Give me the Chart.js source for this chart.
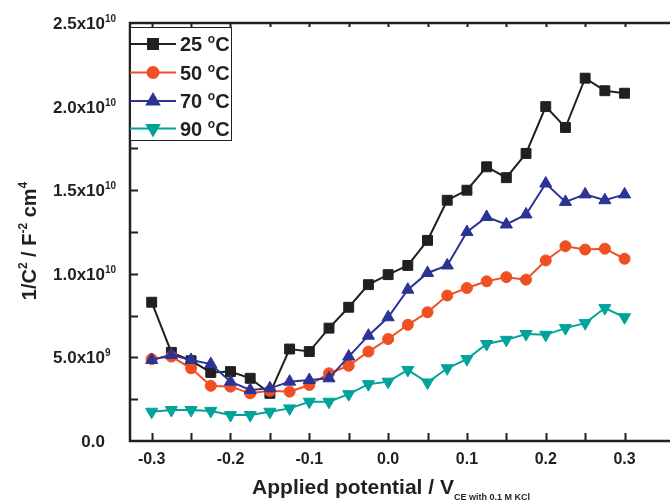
<!DOCTYPE html>
<html>
<head>
<meta charset="utf-8">
<script src="https://cdn.jsdelivr.net/npm/chart.js@4/dist/chart.umd.min.js"></script>
<style>
  html, body { margin: 0; padding: 0; background: #fff; }
</style>
</head>
<body>
<canvas id="mottChart" width="670" height="503"></canvas>
<script>
// Mott-Schottky data, 1/C^2 (F^-2 cm^4) vs applied potential
const potentials = [-0.3, -0.275, -0.25, -0.225, -0.2, -0.175, -0.15, -0.125, -0.1, -0.075, -0.05, -0.025,
  0, 0.025, 0.05, 0.075, 0.1, 0.125, 0.15, 0.175, 0.2, 0.225, 0.25, 0.275, 0.3];

const temps = ['25', '50', '70', '90'];

const invC2_25 = [8.3e9, 5.3e9, 4.8e9, 4.1e9, 4.15e9, 3.75e9, 2.85e9, 5.5e9, 5.35e9, 6.75e9, 8.0e9, 9.35e9,
  9.95e9, 10.5e9, 12.0e9, 14.4e9, 15.0e9, 16.4e9, 15.75e9, 17.2e9, 20.0e9, 18.75e9, 21.7e9, 20.95e9, 20.8e9];
const invC2_50 = [4.9e9, 5.05e9, 4.35e9, 3.3e9, 3.25e9, 2.85e9, 3.0e9, 2.95e9, 3.35e9, 4.05e9, 4.5e9, 5.35e9,
  6.1e9, 6.95e9, 7.7e9, 8.7e9, 9.15e9, 9.55e9, 9.8e9, 9.65e9, 10.8e9, 11.65e9, 11.45e9, 11.5e9, 10.9e9];
const invC2_70 = [4.85e9, 5.15e9, 4.85e9, 4.6e9, 3.55e9, 3.05e9, 3.15e9, 3.55e9, 3.65e9, 3.75e9, 5.05e9, 6.3e9,
  7.4e9, 9.05e9, 10.05e9, 10.5e9, 12.5e9, 13.4e9, 12.95e9, 13.55e9, 15.4e9, 14.3e9, 14.75e9, 14.4e9, 14.75e9];
const invC2_90 = [1.75e9, 1.85e9, 1.85e9, 1.8e9, 1.55e9, 1.55e9, 1.75e9, 1.95e9, 2.35e9, 2.35e9, 2.8e9, 3.4e9,
  3.55e9, 4.25e9, 3.5e9, 4.35e9, 4.9e9, 5.8e9, 6.05e9, 6.4e9, 6.35e9, 6.75e9, 7.05e9, 7.95e9, 7.4e9];

const xTickValues = [-0.3, -0.2, -0.1, 0, 0.1, 0.2, 0.3];
const xTickLabels = ['-0.3', '-0.2', '-0.1', '0.0', '0.1', '0.2', '0.3'];
const yTickValues = [0, 5e9, 1e10, 1.5e10, 2e10, 2.5e10];
const yTickMantissa = ['0.0', '5.0x10', '1.0x10', '1.5x10', '2.0x10', '2.5x10'];
const yTickExponent = ['', '9', '10', '10', '10', '10'];

const colors = ['#231f20', '#f04e23', '#2b3393', '#00a39b'];
const markers = [
  { style: 'rect', radius: 7, rotation: 0 },
  { style: 'circle', radius: 5.5, rotation: 0 },
  { style: 'triangle', radius: 7, rotation: 0 },
  { style: 'triangle', radius: 7, rotation: 180 }
];
const seriesData = [invC2_25, invC2_50, invC2_70, invC2_90];

const fontFam = '"Liberation Sans", Arial, sans-serif';

// draws text pieces one after another (for super/subscripts)
function drawRich(ctx, parts, x, y, align) {
  let total = 0;
  parts.forEach(p => {
    ctx.font = `bold ${p.size}px ${fontFam}`;
    p.w = ctx.measureText(p.t).width;
    total += p.w;
  });
  let cx = x;
  if (align === 'right') cx = x - total;
  if (align === 'center') cx = x - total / 2;
  ctx.textAlign = 'left';
  ctx.textBaseline = 'alphabetic';
  parts.forEach(p => {
    ctx.font = `bold ${p.size}px ${fontFam}`;
    ctx.fillText(p.t, cx, y + (p.dy || 0));
    cx += p.w;
  });
}

const axesPlugin = {
  id: 'originAxes',
  afterDraw(chart) {
    const ctx = chart.ctx;
    const area = chart.chartArea;
    const xs = chart.scales.x;
    const ys = chart.scales.y;
    ctx.save();
    ctx.strokeStyle = '#231f20';
    ctx.fillStyle = '#231f20';

    // frame (right side falls outside the picture)
    ctx.lineWidth = 2.5;
    ctx.beginPath();
    ctx.moveTo(chart.width, area.top);
    ctx.lineTo(area.left, area.top);
    ctx.lineTo(area.left, area.bottom);
    ctx.lineTo(chart.width, area.bottom);
    ctx.stroke();

    // ticks pointing inward
    ctx.lineWidth = 2;
    ctx.beginPath();
    for (let v = -0.3; v <= 0.3001; v += 0.05) {
      const px = Math.round(xs.getPixelForValue(v)) + 0.5;
      ctx.moveTo(px, area.bottom);
      ctx.lineTo(px, area.bottom - 8);
      ctx.moveTo(px, area.top);
      ctx.lineTo(px, area.top + 4);
    }
    for (let v = 2.5e9; v < 2.5e10; v += 2.5e9) {
      const py = Math.round(ys.getPixelForValue(v)) + 0.5;
      ctx.moveTo(area.left, py);
      ctx.lineTo(area.left + 8, py);
    }
    ctx.stroke();

    // x tick labels
    ctx.font = `bold 16px ${fontFam}`;
    ctx.textAlign = 'center';
    ctx.textBaseline = 'alphabetic';
    xTickValues.forEach((v, i) => {
      ctx.fillText(xTickLabels[i], xs.getPixelForValue(v), area.bottom + 23);
    });

    // y tick labels: mantissa right-aligned, exponent hangs after it
    yTickValues.forEach((v, i) => {
      const py = ys.getPixelForValue(v) + 6;
      drawRich(ctx, [{ t: yTickMantissa[i], size: 17 }], 105, py, 'right');
      if (yTickExponent[i]) {
        drawRich(ctx, [{ t: yTickExponent[i], size: 10 }], 105, py - 7, 'left');
      }
    });

    // x axis title
    drawRich(ctx, [
      { t: 'Applied potential / V', size: 21 },
      { t: 'CE with 0.1 M KCl', size: 9, dy: 6 }
    ], 391, 494, 'center');

    // y axis title, rotated
    ctx.save();
    ctx.translate(36, 241);
    ctx.rotate(-Math.PI / 2);
    drawRich(ctx, [
      { t: '1/C', size: 20 },
      { t: '2', size: 12, dy: -9 },
      { t: ' / F', size: 20 },
      { t: '-2', size: 12, dy: -9 },
      { t: ' cm', size: 20 },
      { t: '4', size: 12, dy: -9 }
    ], 0, 0, 'center');
    ctx.restore();

    // legend box
    const boxL = area.left, boxT = 27, boxW = 101, boxH = 113;
    ctx.fillStyle = '#fff';
    ctx.fillRect(boxL, boxT, boxW, boxH);
    ctx.lineWidth = 1;
    ctx.strokeStyle = '#231f20';
    ctx.strokeRect(boxL + 0.5, boxT + 0.5, boxW, boxH);
    const rowY = [44, 72.5, 101, 128.5];
    temps.forEach((t, i) => {
      ctx.strokeStyle = colors[i];
      ctx.fillStyle = colors[i];
      ctx.lineWidth = 2;
      ctx.beginPath();
      ctx.moveTo(boxL, rowY[i]);
      ctx.lineTo(boxL + 46, rowY[i]);
      ctx.stroke();
      Chart.helpers.drawPoint(ctx, {
        pointStyle: markers[i].style,
        radius: markers[i].radius,
        rotation: markers[i].rotation,
        borderWidth: 1
      }, boxL + 23, rowY[i]);
      ctx.fillStyle = '#231f20';
      drawRich(ctx, [
        { t: t + ' ', size: 20 },
        { t: 'o', size: 12, dy: -8 },
        { t: 'C', size: 20 }
      ], boxL + 50, rowY[i] + 7, 'left');
    });

    ctx.restore();
  }
};

const datasets = temps.map((t, i) => ({
  label: t + ' °C',
  data: potentials.map((p, j) => ({ x: p, y: seriesData[i][j] })),
  borderColor: colors[i],
  backgroundColor: colors[i],
  borderWidth: 2,
  pointStyle: markers[i].style,
  pointRadius: markers[i].radius,
  pointRotation: markers[i].rotation,
  pointBorderWidth: 1,
  order: 4 - i
}));

const ctx = document.getElementById('mottChart').getContext('2d');
new Chart(ctx, {
  type: 'line',
  data: { datasets },
  options: {
    responsive: false,
    animation: false,
    devicePixelRatio: 1,
    layout: { padding: { left: 130, top: 23, right: 0, bottom: 62 } },
    scales: {
      x: { type: 'linear', min: -0.3275, max: 0.3475, display: false },
      y: { type: 'linear', min: 0, max: 2.5e10, display: false }
    },
    plugins: {
      legend: { display: false },
      tooltip: { enabled: false }
    }
  },
  plugins: [axesPlugin]
});
</script>
</body>
</html>
